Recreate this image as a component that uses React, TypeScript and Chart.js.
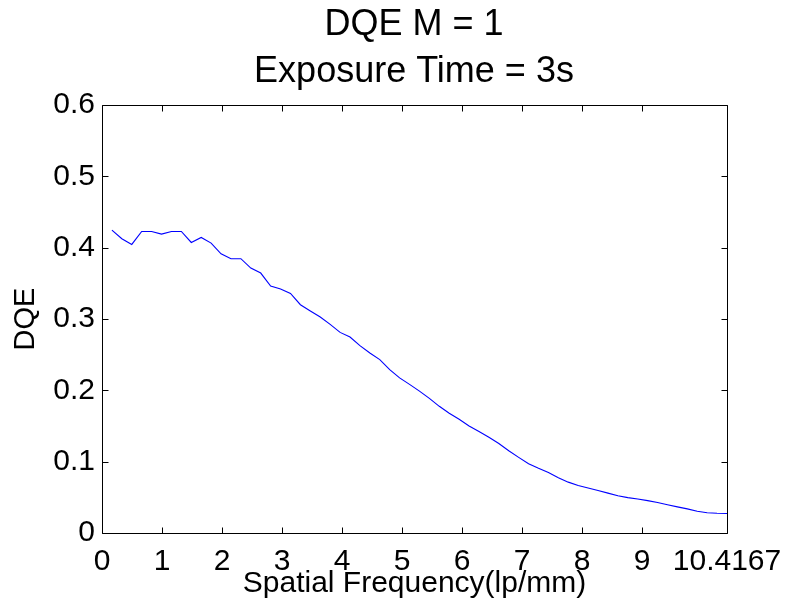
import React, { useEffect, useRef } from "react";
import { Chart, registerables } from "chart.js";

Chart.register(...registerables);

const titleLines = ["DQE M = 1", "Exposure Time = 3s"];
const xLabel = "Spatial Frequency(lp/mm)";
const yLabel = "DQE";

const frequency = [
  0.1653, 0.3307, 0.496, 0.6614, 0.8267, 0.9921, 1.1574, 1.3228, 1.4881, 1.6534,
  1.8188, 1.9841, 2.1495, 2.3148, 2.4802, 2.6455, 2.8108, 2.9762, 3.1415, 3.3069,
  3.4722, 3.6376, 3.8029, 3.9683, 4.1336, 4.2989, 4.4643, 4.6296, 4.795, 4.9603,
  5.1257, 5.291, 5.4563, 5.6217, 5.787, 5.9524, 6.1177, 6.2831, 6.4484, 6.6138,
  6.7791, 6.9444, 7.1098, 7.2751, 7.4405, 7.6058, 7.7712, 7.9365, 8.1019, 8.2672,
  8.4325, 8.5979, 8.7632, 8.9286, 9.0939, 9.2593, 9.4246, 9.5899, 9.7553, 9.9206,
  10.086, 10.2513, 10.4167,
];

const dqe = [
  0.4246, 0.4125, 0.4045, 0.4227, 0.4227, 0.419, 0.4227, 0.4227, 0.4073, 0.4143,
  0.4064, 0.3914, 0.3845, 0.3845, 0.3714, 0.3644, 0.3462, 0.342, 0.3359, 0.32,
  0.3112, 0.3028, 0.2924, 0.2812, 0.2748, 0.2626, 0.2524, 0.243, 0.229, 0.2174,
  0.2084, 0.1989, 0.1887, 0.1776, 0.1679, 0.1594, 0.1501, 0.1422, 0.1343, 0.1254,
  0.1153, 0.106, 0.0971, 0.0906, 0.0847, 0.0773, 0.0713, 0.0667, 0.0632, 0.0595,
  0.0559, 0.0522, 0.0496, 0.0476, 0.0454, 0.0427, 0.0396, 0.0366, 0.0338, 0.0305,
  0.0284, 0.0276, 0.0273,
];

const xTicks = [0, 1, 2, 3, 4, 5, 6, 7, 8, 9, 10.4167];
const xTickLabels = ["0", "1", "2", "3", "4", "5", "6", "7", "8", "9", "10.4167"];
const yTicks = [0, 0.1, 0.2, 0.3, 0.4, 0.5, 0.6];
const yTickLabels = ["0", "0.1", "0.2", "0.3", "0.4", "0.5", "0.6"];

const FONT = "'Liberation Sans', Arial, Helvetica, sans-serif";

const boxPlugin = {
  id: "matlabBox",
  afterDatasetsDraw(chart: any) {
    const { ctx, chartArea } = chart;
    const { left, right, top, bottom } = chartArea;
    const xs = chart.scales.x;
    const ys = chart.scales.y;
    const tl = 6;
    const l = Math.round(left) + 0.5;
    const r = Math.round(right) + 0.5;
    const t = Math.round(top) + 0.5;
    const b = Math.round(bottom) + 0.5;
    ctx.save();
    ctx.strokeStyle = "#000000";
    ctx.lineWidth = 1;
    ctx.beginPath();
    ctx.moveTo(l, t);
    ctx.lineTo(r, t);
    ctx.lineTo(r, b);
    ctx.lineTo(l, b);
    ctx.closePath();
    for (const v of xTicks) {
      const px = Math.round(xs.getPixelForValue(v)) + 0.5;
      ctx.moveTo(px, b);
      ctx.lineTo(px, b - tl);
      ctx.moveTo(px, t);
      ctx.lineTo(px, t + tl);
    }
    for (const v of yTicks) {
      const py = Math.round(ys.getPixelForValue(v)) + 0.5;
      ctx.moveTo(l, py);
      ctx.lineTo(l + tl, py);
      ctx.moveTo(r, py);
      ctx.lineTo(r - tl, py);
    }
    ctx.stroke();
    ctx.restore();
  },
};

export default function App() {
  const ref = useRef<HTMLCanvasElement | null>(null);

  useEffect(() => {
    if (!ref.current) return;
    const points = frequency.map((f, i) => ({ x: f, y: dqe[i] }));
    const chart = new Chart(ref.current, {
      type: "line",
      data: {
        datasets: [
          {
            data: points,
            borderColor: "#0000FF",
            borderWidth: 1.1,
            pointRadius: 0,
            tension: 0,
            fill: false,
          },
        ],
      },
      options: {
        responsive: false,
        animation: false,
        devicePixelRatio: 1,
        layout: { padding: { left: 40, right: 0, top: 0, bottom: 0 } },
        plugins: {
          legend: { display: false },
          tooltip: { enabled: false },
          title: {
            display: true,
            text: titleLines,
            color: "#000000",
            font: { family: FONT, size: 36, weight: "normal", lineHeight: 1.297 },
            padding: { top: 2, bottom: 9.6 },
          },
        },
        scales: {
          x: {
            type: "linear",
            min: 0,
            max: 10.4167,
            grid: { display: false, drawTicks: false, tickLength: 0 },
            border: { display: false },
            afterBuildTicks: (scale: any) => {
              scale.ticks = xTicks.map((v) => ({ value: v }));
            },
            afterFit: (scale: any) => {
              scale.height = 74;
              scale.paddingRight = 61;
            },
            ticks: {
              color: "#000000",
              font: { family: FONT, size: 30 },
              padding: 11,
              maxRotation: 0,
              autoSkip: false,
              callback: (v: any) => {
                const i = xTicks.findIndex((t) => Math.abs(t - Number(v)) < 1e-6);
                return i >= 0 ? xTickLabels[i] : "";
              },
            },
            title: {
              display: true,
              text: xLabel,
              color: "#000000",
              font: { family: FONT, size: 30 },
              padding: { top: 0, bottom: 5 },
            },
          },
          y: {
            type: "linear",
            min: 0,
            max: 0.6,
            grid: { display: false, drawTicks: false, tickLength: 0 },
            border: { display: false },
            afterBuildTicks: (scale: any) => {
              scale.ticks = yTicks.map((v) => ({ value: v }));
            },
            afterFit: (scale: any) => {
              scale.width = 62;
            },
            ticks: {
              color: "#000000",
              font: { family: FONT, size: 30 },
              padding: 7,
              callback: (v: any) => {
                const i = yTicks.findIndex((t) => Math.abs(t - Number(v)) < 1e-6);
                return i >= 0 ? yTickLabels[i] : "";
              },
            },
            title: {
              display: true,
              text: yLabel,
              color: "#000000",
              font: { family: FONT, size: 29 },
              padding: { top: -31.9, bottom: 0 },
            },
          },
        },
      },
      plugins: [boxPlugin],
    } as any);
    return () => chart.destroy();
  }, []);

  return (
    <div style={{ position: "absolute", left: 0, top: 0, width: 788, height: 607, background: "#ffffff" }}>
      <canvas ref={ref} width={788} height={607} />
    </div>
  );
}
